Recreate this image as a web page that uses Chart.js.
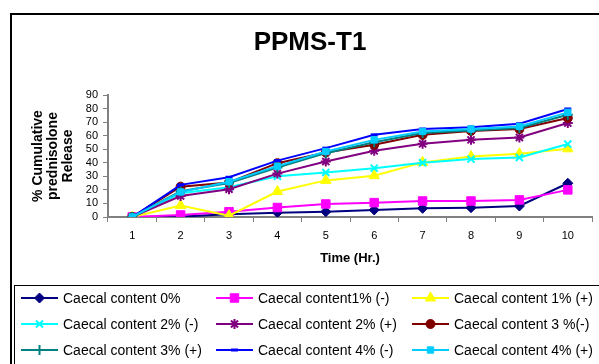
<!DOCTYPE html>
<html>
<head>
<meta charset="utf-8">
<script src="https://cdn.jsdelivr.net/npm/chart.js@4/dist/chart.umd.min.js"></script>
<style>
  html, body { margin: 0; padding: 0; background: #fff; }
  canvas { display: block; }
</style>
</head>
<body>
<canvas id="myChart" width="599" height="364"></canvas>
<script>
// data block
var hours = ['1', '2', '3', '4', '5', '6', '7', '8', '9', '10'];
var seriesNames = [
    'Caecal content 0%', 'Caecal content1% (-)', 'Caecal content 1% (+)',
    'Caecal content 2% (-)', 'Caecal content 2% (+)', 'Caecal content 3 %(-)',
    'Caecal content 3% (+)', 'Caecal content 4% (-)', 'Caecal content 4% (+)'
];
var cc0  = [0, 0.3, 2, 3.2, 3.9, 5.2, 6.4, 6.9, 8.1, 24.9];
var cc1m = [0, 1.5, 3.9, 7, 9.6, 10.6, 11.8, 11.8, 12.6, 20];
var cc1p = [0, 8.5, 1, 18.8, 27, 30.5, 40.3, 44.6, 46.6, 50.3];
var cc2m = [0, 17.5, 22, 30, 32.8, 36, 40, 42.7, 43.9, 53.8];
var cc2p = [0, 15.5, 20.5, 32, 40.9, 48.8, 54, 56.9, 58.7, 69.3];
var cc3m = [0, 22.4, 25.5, 39.7, 47.6, 53.3, 60.6, 63.5, 64.9, 73];
var cc3p = [0, 19, 25, 36.5, 47.1, 55.2, 61.9, 63.8, 65.6, 75.4];
var cc4m = [0, 23.7, 29.3, 41.6, 50.8, 60.6, 64.9, 66.3, 68.8, 79.7];
var cc4p = [0, 18.5, 26, 37.5, 48.3, 56.9, 63.1, 64.9, 66.8, 77.2];
var yTicks = [0, 10, 20, 30, 40, 50, 60, 70, 80, 90];

// style block
var allValues = [cc0, cc1m, cc1p, cc2m, cc2p, cc3m, cc3p, cc4m, cc4p];
var colors = ['#000080', '#FF00FF', '#FFFF00', '#00FFFF', '#800080', '#800000', '#008080', '#0000FF', '#00CCFF'];
var markers = [
    { style: 'rectRot', r: 5, bw: 1 },
    { style: 'rect', r: 6, bw: 1 },
    { style: 'triangle', r: 6, bw: 1 },
    { style: 'crossRot', r: 5, bw: 2 },
    { style: 'star', r: 5, bw: 2 },
    { style: 'circle', r: 4.5, bw: 1 },
    { style: 'cross', r: 5, bw: 2 },
    { style: 'line', r: 3.5, bw: 3 },
    { style: 'rect', r: 4.5, bw: 1 }
];
var FONT = "Arial, 'Liberation Sans', sans-serif";

var datasets = allValues.map(function (vals, i) {
    return {
        label: seriesNames[i],
        data: vals,
        borderColor: colors[i],
        backgroundColor: colors[i],
        pointBackgroundColor: colors[i],
        pointBorderColor: colors[i],
        pointStyle: markers[i].style,
        pointRadius: markers[i].r,
        pointBorderWidth: markers[i].bw,
        borderWidth: 2,
        tension: 0,
        order: 8 - i
    };
});

// frame + title + legend drawn like the excel chart
var excelFrame = {
    id: 'excelFrame',
    beforeDraw: function (chart) {
        var ctx = chart.ctx;
        ctx.save();
        ctx.fillStyle = '#fff';
        ctx.fillRect(0, 0, chart.width, chart.height);
        ctx.strokeStyle = '#000';
        ctx.lineWidth = 2;
        ctx.strokeRect(11, 14, 700, 500);
        ctx.fillStyle = '#000';
        ctx.font = 'bold 26px ' + FONT;
        ctx.textAlign = 'center';
        ctx.textBaseline = 'middle';
        ctx.fillText('PPMS-T1', 310, 43);
        ctx.restore();
    },
    afterDraw: function (chart) {
        var ctx = chart.ctx;
        ctx.save();
        ctx.strokeStyle = '#000';
        ctx.lineWidth = 1;
        ctx.strokeRect(14.5, 285.5, 700, 200);
        var colX = [21, 216, 412];
        var rowY = [298, 324, 350];
        ctx.font = '14px ' + FONT;
        ctx.textBaseline = 'middle';
        ctx.textAlign = 'left';
        chart.data.datasets.forEach(function (ds, i) {
            var x = colX[i % 3], y = rowY[Math.floor(i / 3)];
            ctx.strokeStyle = ds.borderColor;
            ctx.fillStyle = ds.borderColor;
            ctx.lineWidth = 2;
            ctx.beginPath();
            ctx.moveTo(x, y);
            ctx.lineTo(x + 37, y);
            ctx.stroke();
            ctx.lineWidth = ds.pointBorderWidth;
            if (Chart.helpers && Chart.helpers.drawPoint) {
                Chart.helpers.drawPoint(ctx, {
                    pointStyle: ds.pointStyle,
                    radius: ds.pointRadius,
                    rotation: 0,
                    borderWidth: ds.pointBorderWidth
                }, x + 18.5, y);
            }
            ctx.fillStyle = '#000';
            ctx.fillText(ds.label, x + 42, y + 1);
        });
        ctx.restore();
    }
};

var config = {
    type: 'line',
    data: { labels: hours, datasets: datasets },
    options: {
        responsive: false,
        animation: false,
        layout: { padding: { top: 95, right: 2, bottom: 96, left: 0 } },
        plugins: {
            legend: { display: false },
            tooltip: { enabled: false },
            title: { display: false }
        },
        scales: {
            x: {
                offset: true,
                grid: { display: true, drawOnChartArea: false, offset: true, tickLength: 5, color: '#808080' },
                border: { display: true, color: '#808080', width: 2 },
                ticks: { color: '#000', padding: 7, autoSkip: false, maxRotation: 0, font: { family: FONT, size: 11 } },
                title: {
                    display: true, text: 'Time (Hr.)', color: '#000',
                    font: { family: FONT, size: 13, weight: 'bold' },
                    padding: { top: 0, bottom: 2 }
                },
                afterFit: function (scale) { scale.height = 51; }
            },
            y: {
                min: 0, max: 90,
                grid: { display: true, drawOnChartArea: false, tickLength: 5, color: '#808080' },
                border: { display: true, color: '#808080', width: 2 },
                afterBuildTicks: function (scale) {
                    scale.ticks = yTicks.map(function (v) { return { value: v }; });
                },
                ticks: { color: '#000', padding: 5, autoSkip: false, font: { family: FONT, size: 11 } },
                title: {
                    display: true,
                    text: ['% Cumulative', 'prednisolone', 'Release'],
                    color: '#000',
                    font: { family: FONT, size: 14, weight: 'bold', lineHeight: 1.07 },
                    padding: { top: 31, bottom: 0 }
                },
                afterFit: function (scale) { scale.width = 108; }
            }
        }
    },
    plugins: [excelFrame]
};

var myChart = new Chart(document.getElementById('myChart'), config);
</script>
</body>
</html>
